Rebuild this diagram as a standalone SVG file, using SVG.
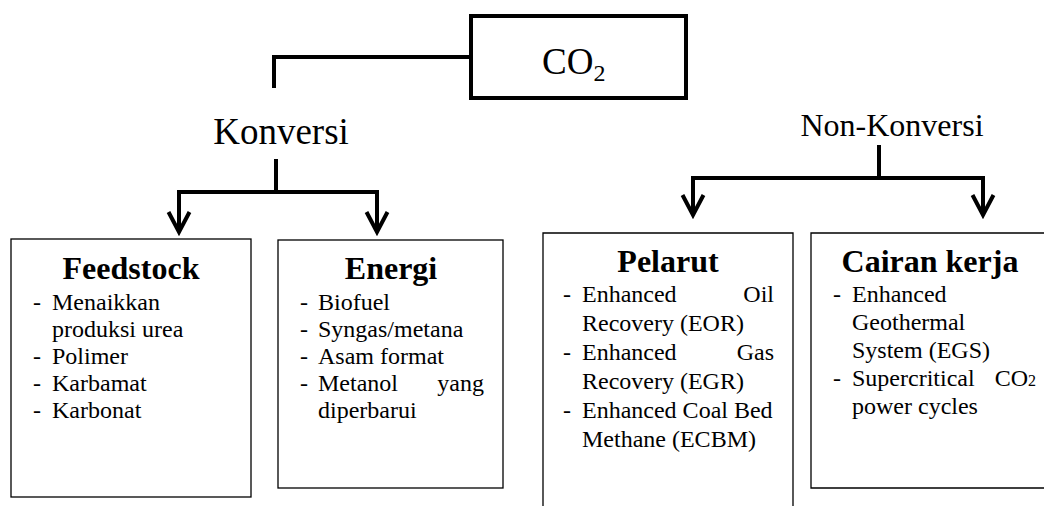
<svg xmlns="http://www.w3.org/2000/svg" width="1044" height="506" viewBox="0 0 1044 506">
<style>
.t{font-size:24px}
.h{font-size:32px;font-weight:bold;text-anchor:middle}
.box{fill:#fff;stroke:#000;stroke-width:1.3}
.c{fill:none;stroke:#000;stroke-width:4;stroke-linejoin:miter}
</style>
<defs>
<marker id="arr" viewBox="-24 -13 28 26" refX="0" refY="0" markerWidth="28" markerHeight="26" markerUnits="userSpaceOnUse" orient="auto">
<path d="M -20 -10.5 L 0 0 L -20 10.5" fill="none" stroke="#000" stroke-width="4"/>
</marker>
</defs>
<g id="connectors">
<path class="c" d="M 469 57 H 274 V 88"/>
<path class="c" d="M 276 159 V 192"/>
<path class="c" d="M 177 192 H 379"/>
<path class="c" d="M 179 192 V 232" marker-end="url(#arr)"/>
<path class="c" d="M 377 192 V 232" marker-end="url(#arr)"/>
<path class="c" d="M 879 145 V 178"/>
<path class="c" d="M 691 178 H 985"/>
<path class="c" d="M 693 178 V 215" marker-end="url(#arr)"/>
<path class="c" d="M 983 178 V 215" marker-end="url(#arr)"/>
</g>
<g font-family="Liberation Serif, Times New Roman, serif" fill="#000">
<g id="co2">
<rect x="471" y="16" width="215" height="82" fill="#fff" stroke="#000" stroke-width="4"/>
<text x="542" y="74" font-size="37">CO<tspan dy="7" font-size="24">2</tspan></text>
</g>
<g id="konversi">
<text x="281" y="144" font-size="37" text-anchor="middle">Konversi</text>
</g>
<g id="non-konversi">
<text x="892" y="136" font-size="32" text-anchor="middle">Non-Konversi</text>
</g>
<g id="feedstock">
<rect class="box" x="11" y="239" width="240" height="258"/>
<text class="h" x="131" y="279">Feedstock</text>
<text class="t" x="33" y="310">-</text><text class="t" x="52" y="310">Menaikkan</text>
<text class="t" x="52" y="337">produksi urea</text>
<text class="t" x="33" y="364">-</text><text class="t" x="52" y="364">Polimer</text>
<text class="t" x="33" y="391">-</text><text class="t" x="52" y="391">Karbamat</text>
<text class="t" x="33" y="418">-</text><text class="t" x="52" y="418">Karbonat</text>
</g>
<g id="energi">
<rect class="box" x="278" y="240" width="225" height="248"/>
<text class="h" x="391" y="279">Energi</text>
<text class="t" x="300" y="310">-</text><text class="t" x="318" y="310">Biofuel</text>
<text class="t" x="300" y="337">-</text><text class="t" x="318" y="337">Syngas/metana</text>
<text class="t" x="300" y="364">-</text><text class="t" x="318" y="364">Asam format</text>
<text class="t" x="300" y="391">-</text><text class="t" x="318" y="391">Metanol</text><text class="t" x="484" y="391" text-anchor="end">yang</text>
<text class="t" x="318" y="418">diperbarui</text>
</g>
<g id="pelarut">
<path class="box" d="M 543 510 V 233 H 793 V 510"/>
<text class="h" x="668" y="272">Pelarut</text>
<text class="t" x="563" y="302">-</text><text class="t" x="582" y="302">Enhanced</text><text class="t" x="774" y="302" text-anchor="end">Oil</text>
<text class="t" x="582" y="331">Recovery (EOR)</text>
<text class="t" x="563" y="360">-</text><text class="t" x="582" y="360">Enhanced</text><text class="t" x="774" y="360" text-anchor="end">Gas</text>
<text class="t" x="582" y="389">Recovery (EGR)</text>
<text class="t" x="563" y="418">-</text><text class="t" x="582" y="418">Enhanced Coal Bed</text>
<text class="t" x="582" y="447">Methane (ECBM)</text>
</g>
<g id="cairan-kerja">
<path class="box" d="M 1050 233 H 811 V 488 H 1050"/>
<text class="h" x="930" y="272">Cairan kerja</text>
<text class="t" x="833" y="302">-</text><text class="t" x="852" y="302">Enhanced</text>
<text class="t" x="852" y="330">Geothermal</text>
<text class="t" x="852" y="358">System (EGS)</text>
<text class="t" x="833" y="386">-</text><text class="t" x="852" y="386">Supercritical</text><text class="t" x="1036" y="386" text-anchor="end">CO<tspan font-size="16">2</tspan></text>
<text class="t" x="852" y="414">power cycles</text>
</g>
</g>
</svg>
